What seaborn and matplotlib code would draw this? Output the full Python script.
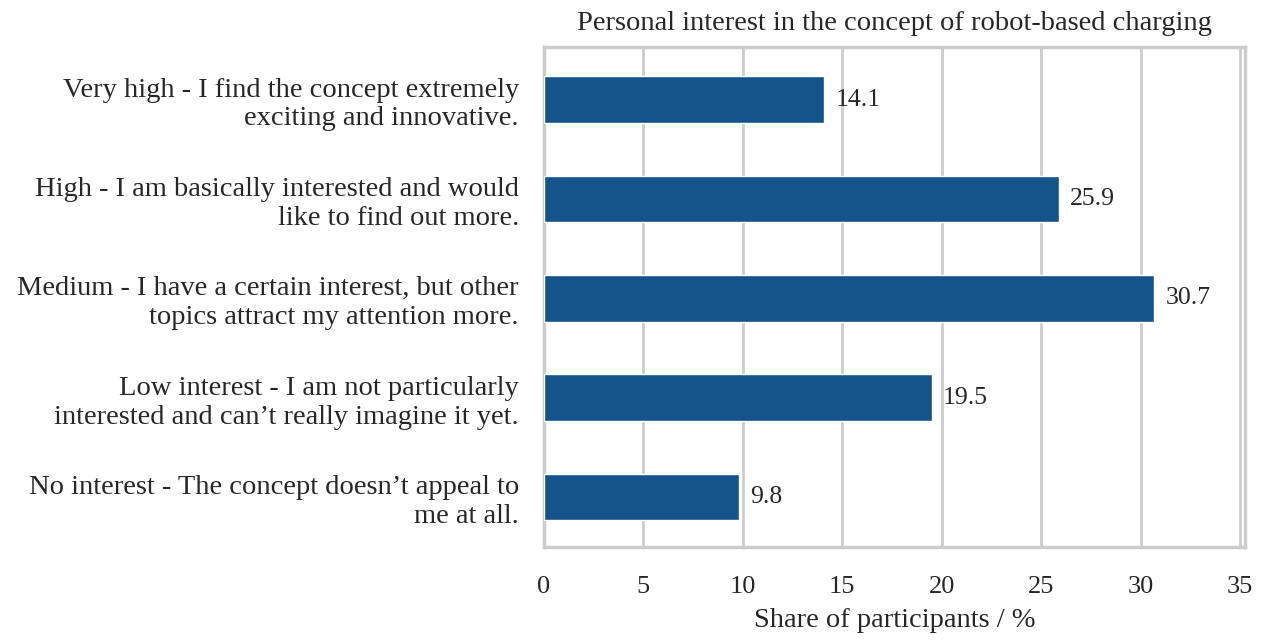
import numpy as np
import pandas as pd
import matplotlib
matplotlib.use("Agg")
import matplotlib.pyplot as plt
import seaborn as sns

# Data
categories = [
    "Very high - I find the concept extremely\nexciting and innovative.",
    "High - I am basically interested and would\nlike to find out more.",
    "Medium - I have a certain interest, but other\ntopics attract my attention more.",
    "Low interest - I am not particularly\ninterested and can\u2019t really imagine it yet.",
    "No interest - The concept doesn\u2019t appeal to\nme at all.",
]
shares = [14.1, 25.9, 30.7, 19.5, 9.8]
x_ticks = [0, 5, 10, 15, 20, 25, 30, 35]

df = pd.DataFrame({"answer": categories, "share": shares})

sns.set_theme(style="whitegrid")
plt.rcParams["font.family"] = ["Liberation Serif", "DejaVu Serif"]

text_col = "#262626"

fig = plt.figure(figsize=(12.62, 6.44), dpi=100)
ax = fig.add_axes([0.431, 0.151, 0.5555, 0.776])

sns.barplot(data=df, x="share", y="answer", color="#15538B",
            width=0.47, saturation=1, ax=ax, zorder=3)

# value labels next to the bars
for i, v in enumerate(shares):
    ax.text(v + 0.55, i, f"{v:.1f}", va="center", ha="left",
            fontsize=18.5, color=text_col, zorder=4)

ax.set_xlim(0, 35.25)
ax.set_ylim(4.5, -0.53)
ax.set_xticks(x_ticks)
ax.set_xticklabels([str(t) for t in x_ticks], fontsize=19, color=text_col)
ax.tick_params(axis="x", pad=21, length=0)
ax.tick_params(axis="y", pad=18, length=0, labelsize=20.5, labelcolor=text_col)
for lab in ax.get_yticklabels():
    lab.set_horizontalalignment("right")
    lab.set_multialignment("right")
    lab.set_linespacing(1.2)

ax.set_ylabel("")
ax.set_xlabel("Share of participants / %", fontsize=20.5, color=text_col, labelpad=7)
ax.set_title("Personal interest in the concept of robot-based charging",
             fontsize=20.5, color=text_col, pad=12)

ax.grid(axis="x", color="#cccccc", linewidth=2, zorder=0)
ax.grid(axis="y", visible=False)
for s in ax.spines.values():
    s.set_color("#cccccc")
    s.set_linewidth(2.5)

fig.savefig("out.png", dpi=100)
